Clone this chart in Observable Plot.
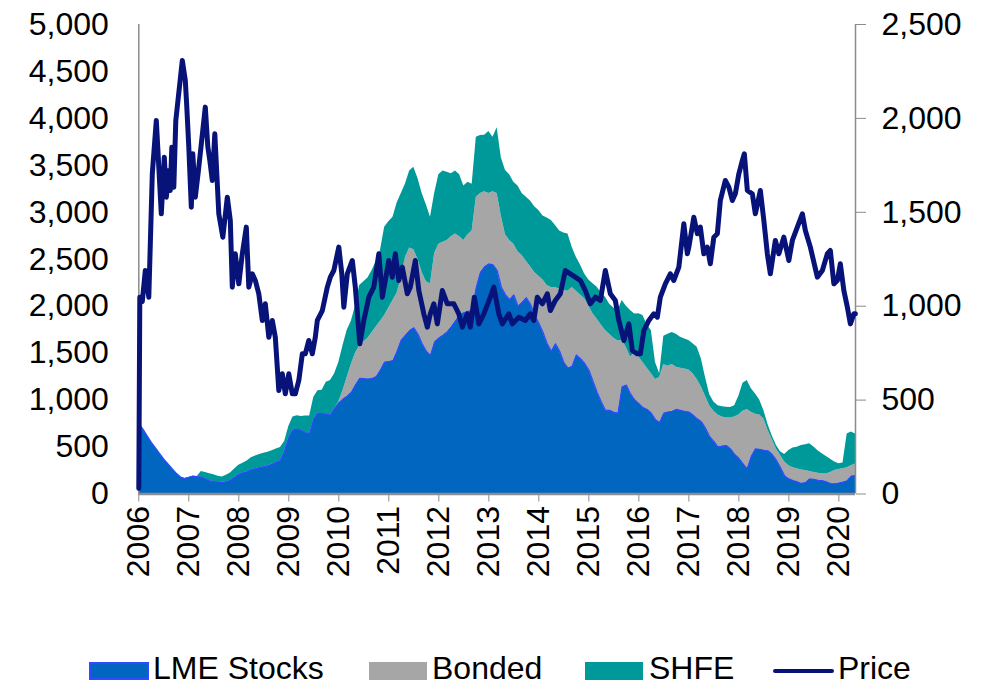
<!DOCTYPE html>
<html>
<head>
<meta charset="utf-8">
<script src="https://cdn.jsdelivr.net/npm/d3@7"></script>
<script src="https://cdn.jsdelivr.net/npm/@observablehq/plot@0.6"></script>
<style>
  html, body { margin: 0; padding: 0; background: #fff; }
  #wrap { position: relative; width: 997px; height: 688px; font-family: "Liberation Sans", Arial, sans-serif; }
  #legend { position: absolute; left: 0; top: 0; width: 997px; height: 688px; pointer-events: none; }
  .sw { position: absolute; box-sizing: border-box; }
  .lt { position: absolute; font-size: 32px; line-height: normal; color: #000; white-space: nowrap; }
</style>
</head>
<body>
<div id="wrap"><div id="chart"></div><div id="legend"></div></div>
<script>
// ---------- DATA ----------
const seriesNames = ["LME Stocks", "Bonded", "SHFE", "Price"];
const seriesColors = ["#0066C0", "#A6A6A6", "#009999", "#08137A"];
const startYear = 2006;            // monthly stock observations from Jan 2006
const endYear = 2020.333;
const yearTicks = [2006, 2007, 2008, 2009, 2010, 2011, 2012, 2013, 2014, 2015, 2016, 2017, 2018, 2019, 2020];
const priceTicks = [0, 500, 1000, 1500, 2000, 2500, 3000, 3500, 4000, 4500, 5000];   // left axis, US$/t
const stockTicks = [0, 500, 1000, 1500, 2000, 2500];                                 // right axis, kt

// LME stocks (kt), monthly
const lmeStocks = [
  374, 345, 310, 275, 245, 215, 185, 160, 135, 110, 90, 82,
  88, 95, 92, 90, 80, 70, 66, 64, 62, 65, 72, 88,
  105, 112, 118, 128, 134, 140, 145, 150, 158, 168, 178, 230,
  300, 340, 345, 338, 325, 320, 400, 430, 428, 425, 420, 455,
  485, 505, 520, 540, 580, 615, 614, 612, 615, 625, 660, 702,
  705, 710, 760, 820, 845, 870, 885, 850, 800, 760, 737, 810,
  830, 845, 862, 890, 920, 955, 965, 972, 977, 1100, 1180, 1210,
  1225, 1220, 1190, 1101, 1060, 1035, 1060, 1000, 1020, 1045, 1010, 950,
  910, 860, 800, 760, 800, 760, 700, 670, 680, 740, 720, 695,
  660, 600, 540, 490, 445, 445, 435, 430, 570, 580, 533, 500,
  480, 460, 450, 430, 395, 380, 430, 436, 440, 450, 445, 440,
  436, 420, 400, 385, 350, 305, 280, 250, 255, 258, 240, 210,
  190, 160, 134, 200, 240, 238, 232, 230, 210, 180, 140, 95,
  80, 71, 65, 56, 60, 80, 78, 72, 71, 65, 55, 54,
  58, 63, 70, 95, 98
];
// Bonded stocks (kt), monthly
const bondedStocks = [
  0, 0, 0, 0, 0, 0, 0, 0, 0, 0, 0, 0,
  0, 0, 0, 0, 0, 0, 0, 0, 0, 0, 0, 0,
  0, 0, 0, 0, 0, 0, 0, 0, 0, 0, 0, 0,
  0, 0, 0, 0, 0, 0, 0, 0, 0, 0, 0, 0,
  5, 45, 100, 150, 170, 175, 196, 218, 245, 265, 260, 248,
  285, 320, 310, 330, 415, 440, 415, 400, 380, 370, 383, 470,
  500, 495, 488, 480, 465, 415, 385, 408, 423, 480, 420, 400,
  375, 390, 410, 379, 320, 315, 270, 290, 250, 195, 200, 230,
  250, 280, 310, 340, 300, 330, 385, 410, 420, 340, 340, 345,
  340, 360, 390, 410, 425, 405, 395, 385, 247, 200, 197, 250,
  250, 240, 220, 210, 215, 240, 260, 244, 250, 225, 225, 225,
  224, 220, 210, 185, 170, 165, 160, 170, 155, 147, 165, 200,
  230, 280, 316, 235, 185, 182, 168, 110, 80, 60, 65, 75,
  70, 69, 70, 72, 65, 40, 37, 38, 37, 42, 60, 71,
  72, 71, 70, 55, 62
];
// SHFE stocks (kt), monthly
const shfeStocks = [
  0, 0, 0, 0, 0, 0, 0, 0, 0, 0, 0, 0,
  0, 0, 0, 30, 35, 38, 36, 30, 28, 35, 40, 45,
  48, 52, 58, 65, 68, 70, 72, 72, 72, 72, 70, 50,
  60, 70, 72, 75, 90, 95, 115, 120, 125, 170, 185, 185,
  210, 240, 250, 230, 250, 320, 320, 320, 330, 350, 377, 470,
  460, 444, 480, 450, 391, 410, 440, 430, 420, 410, 354, 320,
  370, 380, 363, 335, 335, 330, 290, 280, 250, 320, 309, 300,
  330, 290, 350, 310, 343, 350, 330, 350, 330, 340, 350, 350,
  350, 340, 360, 356, 330, 310, 305, 305, 214, 180, 160, 132,
  140, 160, 171, 170, 178, 160, 160, 162, 213, 220, 247, 209,
  230, 250, 230, 230, 90, 20, 150, 170, 170, 175, 165, 160,
  157, 160, 172, 150, 100, 60, 50, 50, 55, 57, 55, 60,
  100, 150, 154, 125, 108, 80, 45, 30, 20, 20, 20, 40,
  82, 105, 114, 130, 137, 147, 135, 120, 106, 93, 70, 45,
  31, 31, 180, 180, 160
];

// Price (US$/t) at decimal-year dates
const priceDates = [
  2006.00, 2006.02, 2006.07, 2006.13, 2006.20, 2006.27, 2006.35, 2006.45, 2006.51, 2006.55,
  2006.60, 2006.63, 2006.66, 2006.70, 2006.74, 2006.87, 2006.93, 2006.96, 2007.00, 2007.05,
  2007.08, 2007.13, 2007.20, 2007.33, 2007.38, 2007.42, 2007.47, 2007.52, 2007.60, 2007.68,
  2007.77, 2007.83, 2007.87, 2007.93, 2008.00, 2008.07, 2008.15, 2008.20, 2008.27, 2008.33,
  2008.40, 2008.47, 2008.53, 2008.60, 2008.67, 2008.73, 2008.80, 2008.87, 2008.93, 2009.00,
  2009.07, 2009.13, 2009.20, 2009.27, 2009.33, 2009.40, 2009.47, 2009.53, 2009.57, 2009.67,
  2009.77, 2009.83, 2009.90, 2010.00, 2010.06, 2010.10, 2010.17, 2010.27, 2010.33, 2010.42,
  2010.50, 2010.60, 2010.70, 2010.80, 2010.87, 2011.00, 2011.07, 2011.13, 2011.20, 2011.27,
  2011.37, 2011.43, 2011.53, 2011.60, 2011.70, 2011.77, 2011.83, 2011.90, 2011.97, 2012.07,
  2012.17, 2012.30, 2012.40, 2012.47, 2012.57, 2012.63, 2012.71, 2012.80, 2012.90, 2013.03,
  2013.10, 2013.20, 2013.27, 2013.40, 2013.47, 2013.60, 2013.73, 2013.83, 2013.90, 2013.97,
  2014.07, 2014.17, 2014.23, 2014.33, 2014.43, 2014.53, 2014.63, 2014.73, 2014.83, 2014.93,
  2015.03, 2015.13, 2015.23, 2015.33, 2015.43, 2015.53, 2015.60, 2015.70, 2015.80, 2015.87,
  2015.97, 2016.03, 2016.10, 2016.20, 2016.30, 2016.37, 2016.43, 2016.53, 2016.63, 2016.70,
  2016.80, 2016.90, 2016.97, 2017.00, 2017.10, 2017.17, 2017.23, 2017.30, 2017.37, 2017.43,
  2017.50, 2017.57, 2017.63, 2017.73, 2017.80, 2017.87, 2017.93, 2018.00, 2018.07, 2018.11,
  2018.17, 2018.27, 2018.33, 2018.43, 2018.50, 2018.57, 2018.63, 2018.73, 2018.80, 2018.90,
  2019.00, 2019.07, 2019.17, 2019.27, 2019.33, 2019.43, 2019.57, 2019.67, 2019.77, 2019.83,
  2019.90, 2019.97, 2020.03, 2020.10, 2020.17, 2020.23, 2020.30, 2020.33
];
const priceUSD = [
  60, 2096, 2050, 2380, 2096, 3410, 3978, 2984, 3587, 3161,
  3445, 3232, 3693, 3268, 3978, 4617, 4404, 4120, 3693, 3054,
  3623, 3161, 3481, 4120, 3700, 3552, 3339, 3836, 2984, 2735,
  3161, 2913, 2203, 2558, 2238, 2558, 2842, 2203, 2345, 2274,
  2132, 1848, 2026, 1670, 1848, 1670, 1102, 1280, 1067, 1280,
  1067, 1067, 1209, 1493, 1493, 1635, 1493, 1670, 1848, 1954,
  2203, 2309, 2380, 2629, 2345, 1990, 2345, 2487, 2203, 1599,
  1848, 2096, 2203, 2558, 2096, 2487, 2309, 2558, 2274, 2416,
  2132, 2203, 2487, 2167, 1919, 1777, 1919, 2026, 1812, 2167,
  2026, 2026, 1919, 1777, 1919, 1777, 2096, 1812, 1919, 2096,
  2203, 1919, 1812, 1919, 1812, 1883, 1848, 1919, 1848, 2096,
  2026, 2132, 1954, 2061, 2132, 2380, 2345, 2309, 2274, 2167,
  2026, 2096, 2061, 2380, 2132, 2061, 1848, 1635, 1812, 1528,
  1493, 1493, 1741, 1848, 1919, 1883, 2096, 2238, 2345, 2274,
  2416, 2877, 2558, 2629, 2948, 2771, 2842, 2558, 2629, 2452,
  2735, 2771, 3126, 3339, 3268, 3126, 3197, 3410, 3552, 3623,
  3232, 3197, 2984, 3232, 2913, 2558, 2345, 2700, 2558, 2735,
  2487, 2700, 2842, 2984, 2806, 2629, 2309, 2380, 2558, 2593,
  2238, 2274, 2452, 2167, 1990, 1812, 1919, 1919
];

// ---------- TABLES ----------
const stockRows = [];
lmeStocks.forEach((v, i) => {
  const t = startYear + i / 12;
  stockRows.push({t, series: seriesNames[0], v});
  stockRows.push({t, series: seriesNames[1], v: bondedStocks[i]});
  stockRows.push({t, series: seriesNames[2], v: shfeStocks[i]});
});
const lmeRows = lmeStocks.map((v, i) => ({t: startYear + i / 12, v}));
const priceRows = priceDates.map((t, i) => ({t, p: priceUSD[i]}));

// right axis (kt) shares the left scale: 1 kt = 2 US$/t units
const ratio = 5000 / 2500;
const fmt = d3.format(",");
const axisGray = "#8C8C8C";

const chart = Plot.plot({
  width: 997,
  height: 640,
  marginLeft: 138.3,
  marginRight: 142,
  marginTop: 24,
  marginBottom: 146.5,
  style: {fontFamily: "'Liberation Sans', Arial, sans-serif", fontSize: "32px", color: "#000", background: "#fff", overflow: "visible"},
  x: {type: "linear", domain: [startYear, endYear]},
  y: {domain: [0, 5000]},
  color: {domain: seriesNames.slice(0, 3), range: seriesColors.slice(0, 3)},
  marks: [
    Plot.areaY(stockRows, {x: "t", y: d => d.v * ratio, z: "series", fill: "series", order: seriesNames.slice(0, 3)}),
    Plot.lineY(lmeRows, {x: "t", y: d => d.v * ratio, stroke: "#2F4BFF", strokeWidth: 1.3}),
    Plot.ruleX([startYear], {stroke: axisGray, strokeWidth: 1.5}),
    Plot.ruleX([endYear], {stroke: axisGray, strokeWidth: 1.5}),
    Plot.ruleY([0], {stroke: axisGray, strokeWidth: 2.5}),
    Plot.lineY(priceRows, {x: "t", y: "p", stroke: seriesColors[3], strokeWidth: 5, strokeLinejoin: "round", strokeLinecap: "round"}),
    Plot.axisY({anchor: "left", ticks: priceTicks, tickFormat: fmt, tickSize: 0, tickPadding: 30, label: null}),
    Plot.axisY({anchor: "right", ticks: stockTicks.map(d => d * ratio), tickFormat: d => fmt(d / ratio), tickSize: 10, tickPadding: 16, stroke: axisGray, label: null}),
    Plot.axisX({ticks: yearTicks, tickFormat: d => String(d), tickRotate: -90, tickSize: 8, tickPadding: 4, stroke: axisGray, label: null})
  ]
});
document.getElementById("chart").appendChild(chart);

// ---------- LEGEND ----------
const legend = document.getElementById("legend");
const items = [
  {name: seriesNames[0], kind: "box", color: seriesColors[0], border: "#2F4BFF", x: 89, w: 60, tx: 153},
  {name: seriesNames[1], kind: "box", color: seriesColors[1], border: seriesColors[1], x: 369, w: 58, tx: 432},
  {name: seriesNames[2], kind: "box", color: seriesColors[2], border: seriesColors[2], x: 585, w: 58, tx: 649},
  {name: seriesNames[3], kind: "line", color: seriesColors[3], x: 773, w: 61, tx: 838}
];
for (const it of items) {
  const s = document.createElement("div");
  s.className = "sw";
  if (it.kind === "box") {
    Object.assign(s.style, {left: it.x + "px", top: "662px", width: it.w + "px", height: "18px", background: it.color, border: "2px solid " + it.border});
  } else {
    Object.assign(s.style, {left: it.x + "px", top: "669px", width: it.w + "px", height: "4px", background: it.color, borderRadius: "2px"});
  }
  legend.appendChild(s);
  const t = document.createElement("div");
  t.className = "lt";
  t.textContent = it.name;
  Object.assign(t.style, {left: it.tx + "px", top: "650px"});
  legend.appendChild(t);
}
</script>
</body>
</html>
